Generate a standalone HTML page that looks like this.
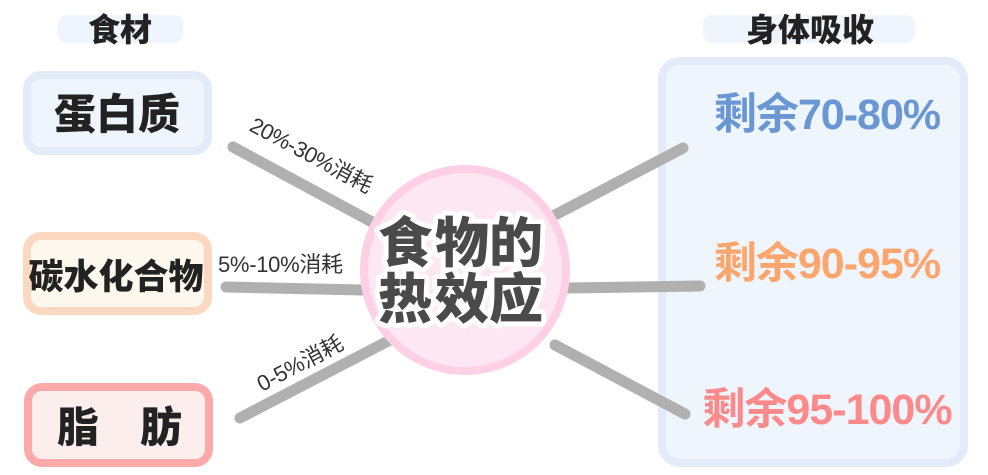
<!DOCTYPE html>
<html><head><meta charset="utf-8"><style>
html,body{margin:0;padding:0;background:#fff;width:988px;height:475px;overflow:hidden}
svg text{font-family:"Liberation Sans","Noto Sans CJK SC",sans-serif}
</style></head><body>
<svg width="988" height="475" viewBox="0 0 988 475" xmlns="http://www.w3.org/2000/svg">
<rect x="58" y="15" width="125" height="28" rx="9" fill="#eef5fd"/>
<text x="120" y="41" font-size="32" font-weight="900" text-anchor="middle" fill="#222">食材</text>
<rect x="703" y="15" width="212" height="28" rx="9" fill="#eef5fd"/>
<text x="810" y="41" font-size="32" font-weight="900" text-anchor="middle" fill="#222">身体吸收</text>

<rect x="27" y="75" width="181" height="76" rx="14" fill="#eef5fd" stroke="#e2ebf7" stroke-width="8"/>
<text x="117" y="129" font-size="42" font-weight="900" text-anchor="middle" fill="#222">蛋白质</text>
<rect x="27" y="236" width="181" height="75" rx="14" fill="#fdf8ee" stroke="#fdd8c0" stroke-width="8"/>
<text x="116" y="289" font-size="35" font-weight="900" text-anchor="middle" fill="#222">碳水化合物</text>
<rect x="28" y="387" width="181" height="76" rx="14" fill="#fdeeee" stroke="#fca9a9" stroke-width="8"/>
<text x="78" y="442" font-size="42" font-weight="900" text-anchor="middle" fill="#222">脂</text>
<text x="161" y="442" font-size="42" font-weight="900" text-anchor="middle" fill="#222">肪</text>

<rect x="662" y="61" width="302" height="402" rx="18" fill="#eef5fd" stroke="#e2ebf7" stroke-width="8"/>
<text x="827" y="129" font-size="43" font-weight="bold" text-anchor="middle" fill="#6a97d4" letter-spacing="-1">剩余70-80%</text>
<text x="827" y="278" font-size="43" font-weight="bold" text-anchor="middle" fill="#fca66e" letter-spacing="-1">剩余90-95%</text>
<text x="827" y="424" font-size="43" font-weight="bold" text-anchor="middle" fill="#fc8a8a" letter-spacing="-1">剩余95-100%</text>

<g stroke="#b0b0b0" stroke-width="11" stroke-linecap="round">
<line x1="233" y1="147" x2="372" y2="222"/>
<line x1="226" y1="287" x2="362" y2="290"/>
<line x1="240" y1="418" x2="390" y2="340"/>
<line x1="683" y1="148" x2="555" y2="215"/>
<line x1="700" y1="286" x2="568" y2="288"/>
<line x1="685" y1="414" x2="555" y2="345"/>
</g>

<g fill="#333" font-size="22">
<text transform="translate(248,130) rotate(28)" letter-spacing="-0.5">20%-30%消耗</text>
<text x="218" y="272" letter-spacing="-0.3">5%-10%消耗</text>
<text transform="translate(262,392) rotate(-28)" letter-spacing="-0.3">0-5%消耗</text>
</g>

<circle cx="465" cy="270" r="101" fill="#fde7f2" stroke="#fdd0e6" stroke-width="8"/>
<g font-size="54" font-weight="900" text-anchor="middle">
<g stroke="#fff" stroke-width="10" stroke-linejoin="round" fill="#fff">
<text x="405" y="262">食</text><text x="462" y="262">物</text><text x="516" y="262">的</text>
<text x="405" y="318">热</text><text x="462" y="318">效</text><text x="516" y="318">应</text>
</g>
<g fill="#4a4a4a">
<text x="405" y="262">食</text><text x="462" y="262">物</text><text x="516" y="262">的</text>
<text x="405" y="318">热</text><text x="462" y="318">效</text><text x="516" y="318">应</text>
</g>
</g>
</svg>
</body></html>
